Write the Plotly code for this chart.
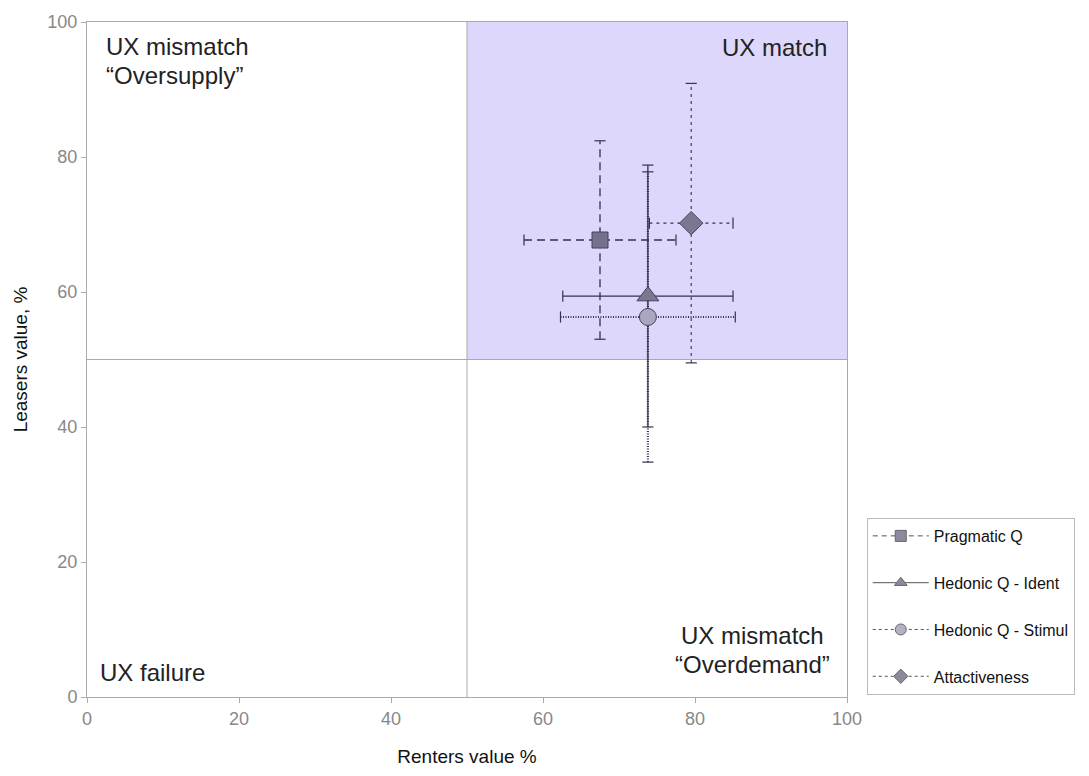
import plotly.graph_objects as go

# ---- data ----
series = ["Pragmatic Q", "Hedonic Q - Ident", "Hedonic Q - Stimul", "Attactiveness"]
x_vals = [67.5, 73.8, 73.8, 79.5]
y_vals = [67.7, 59.4, 56.3, 70.2]
x_err = [10.0, 11.2, 11.5, 5.5]
y_err = [14.7, 19.4, 21.5, 20.7]

x_ticks = [0, 20, 40, 60, 80, 100]
y_ticks = [0, 20, 40, 60, 80, 100]

quad_split = 50

# ---- styles ----
symbols = ["square", "triangle-up", "circle", "diamond"]
sizes = [16, 19, 17, 18]
fills = ["#75718d", "#7b7791", "#aaa6bf", "#7b7791"]
dashes = ["8px,5px", "solid", "1px,1.5px", "3px,4px"]
legend_dashes = ["5px,4px", "solid", "dot", "3px,3px"]
widths = [1.3, 1.3, 2.2, 1.1]
line_col = "#35324a"

FONT = "Liberation Sans, Arial, Helvetica, sans-serif"

fig = go.Figure()

# quadrant shading (UX match)
fig.add_shape(type="rect", x0=quad_split, x1=100, y0=quad_split, y1=100,
              fillcolor="#ddd7fb", line=dict(width=0), layer="below")
fig.add_shape(type="line", x0=quad_split, x1=quad_split, y0=0, y1=100,
              line=dict(color="#aaaaaa", width=1), layer="below")
fig.add_shape(type="line", x0=0, x1=100, y0=quad_split, y1=quad_split,
              line=dict(color="#aaaaaa", width=1), layer="below")

# error whiskers
for i in range(len(series)):
    x, y, ex, ey = x_vals[i], y_vals[i], x_err[i], y_err[i]
    ln = dict(color=line_col, width=widths[i], dash=dashes[i])
    fig.add_trace(go.Scatter(x=[x - ex, x + ex], y=[y, y], mode="lines", line=ln,
                             showlegend=False, hoverinfo="skip"))
    fig.add_trace(go.Scatter(x=[x, x], y=[y - ey, y + ey], mode="lines", line=ln,
                             showlegend=False, hoverinfo="skip"))
    # caps
    fig.add_trace(go.Scatter(x=[x - ex, x + ex], y=[y, y], mode="markers",
                             marker=dict(symbol="line-ns", size=8,
                                         line=dict(color=line_col, width=1.2)),
                             showlegend=False, hoverinfo="skip"))
    fig.add_trace(go.Scatter(x=[x, x], y=[y - ey, y + ey], mode="markers",
                             marker=dict(symbol="line-ew", size=8,
                                         line=dict(color=line_col, width=1.2)),
                             showlegend=False, hoverinfo="skip"))

# markers
for i in range(len(series)):
    fig.add_trace(go.Scatter(
        x=[x_vals[i]], y=[y_vals[i]], mode="markers", name=series[i],
        showlegend=False,
        marker=dict(symbol=symbols[i], size=sizes[i], color=fills[i],
                    line=dict(color="#45425a", width=1)),
    ))

# legend entries (smaller glyphs, as in the reference legend)
for i in range(len(series)):
    fig.add_trace(go.Scatter(
        x=[None], y=[None], mode="lines+markers", name=series[i],
        legendgroup=series[i],
        line=dict(color="#555555", width=1, dash=legend_dashes[i]),
        marker=dict(symbol=symbols[i], size=11, color="#8e8a9e" if i != 2 else "#b4b1c4",
                    line=dict(color="#666666", width=1)),
    ))

# quadrant labels
txt = dict(family=FONT, size=24, color="#222222")
ann = [
    dict(x=2.3, y=96.3, text="UX mismatch", xanchor="left"),
    dict(x=2.3, y=92.1, text="\u201cOversupply\u201d", xanchor="left"),
    dict(x=97.6, y=96.2, text="UX match", xanchor="right"),
    dict(x=87.5, y=9.1, text="UX mismatch", xanchor="center"),
    dict(x=87.6, y=4.8, text="\u201cOverdemand\u201d", xanchor="center"),
    dict(x=1.5, y=3.7, text="UX failure", xanchor="left"),
]
for a in ann:
    fig.add_annotation(x=a["x"], y=a["y"], text=a["text"], xanchor=a["xanchor"],
                       yanchor="middle", showarrow=False, font=txt, xref="x", yref="y")

axis_common = dict(
    showgrid=False, zeroline=False, showline=True, linecolor="#aaaaaa", linewidth=1,
    mirror=True, ticks="outside", ticklen=5, tickcolor="#aaaaaa",
    tickfont=dict(family=FONT, size=18, color="#888888"),
    range=[0, 100],
)

fig.update_layout(
    width=1089, height=776,
    margin=dict(l=87, r=242, t=22, b=79),
    paper_bgcolor="white", plot_bgcolor="white",
    font=dict(family=FONT),
    xaxis=dict(**axis_common, tickvals=x_ticks,
               title=dict(text="Renters value %", font=dict(family=FONT, size=19, color="#111111"),
                          standoff=22)),
    yaxis=dict(**axis_common, tickvals=y_ticks,
               title=dict(text="Leasers value, %", font=dict(family=FONT, size=19, color="#111111"),
                          standoff=14)),
    legend=dict(
        x=1.026, y=0.003, xanchor="left", yanchor="bottom",
        bgcolor="white", bordercolor="#bbbbbb", borderwidth=1,
        font=dict(family=FONT, size=16, color="#111111"),
        tracegroupgap=23, itemwidth=56,
    ),
)

fig.write_html("out.html", config={"displayModeBar": False},
               post_script="document.body.style.margin='0';")
